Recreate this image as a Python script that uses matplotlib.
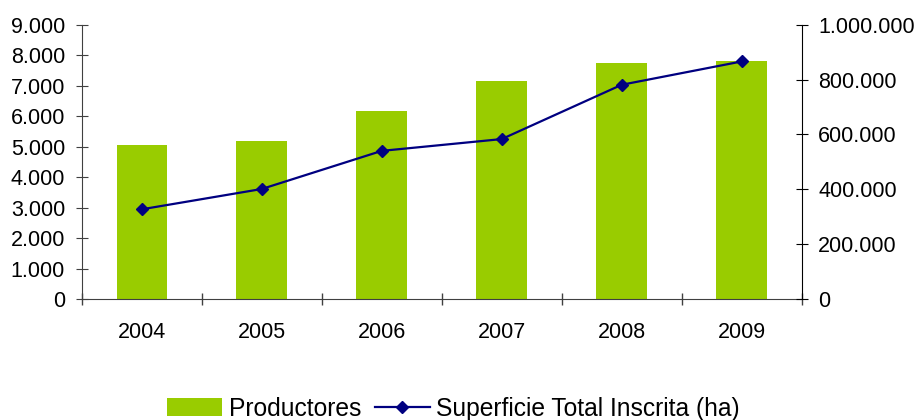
import matplotlib
matplotlib.use("Agg")
import matplotlib.pyplot as plt
from matplotlib.ticker import FuncFormatter, FixedLocator
import numpy as np

years = ["2004", "2005", "2006", "2007", "2008", "2009"]
productores = [5040, 5170, 6170, 7150, 7740, 7810]
superficie = [327000, 401000, 540000, 583000, 781000, 866000]

plt.rcParams['font.family'] = ['Liberation Sans', 'DejaVu Sans']
FS = 15.5
LFS = 17.7

fig = plt.figure(figsize=(9.15, 4.2), dpi=100)
ax = fig.add_axes([81.7/915, 1-299/420, (801.7-81.7)/915, (299-24.7)/420])
x = np.arange(len(years))
bars = ax.bar(x, productores, width=0.42, color='#99CC00', label='Productores', zorder=2)
ax.set_xlim(-0.5, len(years)-0.5)
ax.set_ylim(0, 9000)
ax.set_yticks(np.arange(0, 9001, 1000))

def thou(v, pos):
    return f"{int(round(v)):,}".replace(",", ".")

ax.yaxis.set_major_formatter(FuncFormatter(thou))
ax.set_xticks(x)
ax.set_xticklabels(years)
ax.xaxis.set_minor_locator(FixedLocator(np.arange(-0.5, len(years), 1.0)))
ax.tick_params(axis='x', which='major', length=0, pad=16.5, labelsize=FS)
ax.tick_params(axis='x', which='minor', length=8.5, direction='inout', width=1, color='#404040')
ax.tick_params(axis='y', length=8, direction='inout', pad=8, labelsize=FS, color='#404040')
for s in ['top', 'right']:
    ax.spines[s].set_visible(False)
ax.spines['left'].set_color('#404040')
ax.spines['bottom'].set_color('#404040')
ax.spines['bottom'].set_zorder(3)

ax2 = ax.twinx()
line, = ax2.plot(x, superficie, color='#000080', lw=1.6, marker='D', ms=6.5,
                 label='Superficie Total Inscrita (ha)', zorder=4)
ax2.set_ylim(0, 1000000)
ax2.set_yticks(np.arange(0, 1000001, 200000))
ax2.yaxis.set_major_formatter(FuncFormatter(thou))
ax2.tick_params(axis='y', length=8, direction='inout', pad=8, labelsize=FS, color='black')
for s in ['top', 'left', 'bottom']:
    ax2.spines[s].set_visible(False)
ax2.spines['right'].set_color('black')

fig.legend([bars, line], ['Productores', 'Superficie Total Inscrita (ha)'],
           loc='center', bbox_to_anchor=(0.4955, 0.027), ncol=2, frameon=False,
           fontsize=LFS, handlelength=2.25, handleheight=0.75, handletextpad=0.25,
           columnspacing=0.55, borderpad=0)

fig.savefig("out.png", dpi=100)
